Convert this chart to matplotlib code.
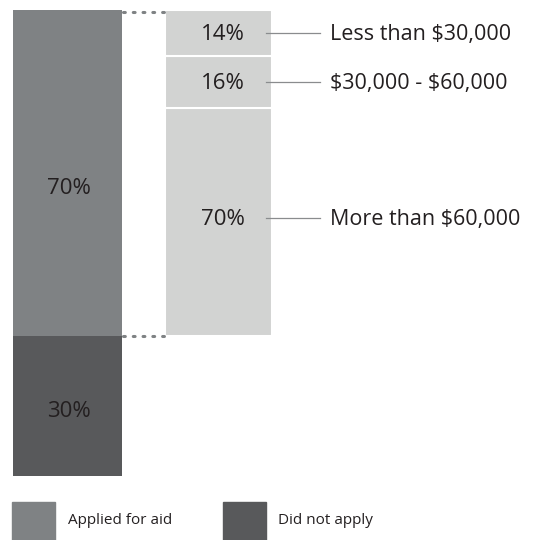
import matplotlib.pyplot as plt
from matplotlib.patches import Rectangle

# overall split of students
overall_labels = ['Applied for aid', 'Did not apply']
overall_pct = [70, 30]
overall_colors = ['#7f8284', '#58595b']

# breakdown of those who applied, by family income (bottom to top)
income_labels = ['More than \\$60,000', '\\$30,000 - \\$60,000', 'Less than \\$30,000']
income_pct = [70, 16, 14]
income_color = '#d2d3d2'

text_color = '#231f20'
plt.rcParams['font.family'] = ['Open Sans', 'DejaVu Sans']

fig = plt.figure(figsize=(5.35, 5.40), dpi=100)
ax = fig.add_axes([0, 0, 1, 1])
ax.set_xlim(0, 535)
ax.set_ylim(-13.73, 102.15)
ax.set_axis_off()

# left stacked bar: did not apply at the bottom, applied on top
left_x, bar_w = 13, 109
label_pos = [0.47, 0.457]
bottom = 0
for pct, col, f in zip(overall_pct[::-1], overall_colors[::-1], label_pos):
    ax.bar(left_x, pct, width=bar_w, bottom=bottom, color=col, align='edge')
    ax.text(left_x + bar_w / 2 + 1, bottom + pct * f - 0.3, f'{pct}%', ha='center',
            va='center', fontsize=16, color=text_color)
    bottom += pct

# right bar: applied share split by income
applied = overall_pct[0]
base = overall_pct[1]
right_x, right_w = 165, 107
bottom = base
for pct, lab in zip(income_pct, income_labels):
    h = applied * pct / 100
    ax.bar(right_x, h, width=right_w, bottom=bottom, color=income_color,
           align='edge', edgecolor='white', linewidth=1.5)
    mid = bottom + h * (0.518 if pct == 70 else 0.5)
    ax.text(right_x + right_w / 2 + 4, mid - 0.4, f'{pct}%', ha='center', va='center',
            fontsize=16, color=text_color)
    ax.plot([266, 320], [mid, mid], color='#8a8c8e', linewidth=0.9)
    ax.text(330, mid - 0.4, lab, ha='left', va='center', fontsize=15.5, color=text_color)
    bottom += h

# dotted connectors between the two bars
for y in [base, base + applied - 0.4]:
    ax.plot([123, 165], [y, y], linestyle=(0, (0.6, 2.6)), color='#7f8284',
            linewidth=2.2, dash_capstyle='round')

# legend squares
for (x0, tx), lab, col in zip([(12, 68), (223, 278)], overall_labels, overall_colors):
    fig.patches.append(Rectangle((x0 / 535, 0), 43 / 535, 38 / 540, color=col,
                                 transform=fig.transFigure))
    fig.text(tx / 535, 19 / 540, lab, ha='left', va='center', fontsize=11,
             color=text_color)

fig.savefig('out.png', dpi=100)
